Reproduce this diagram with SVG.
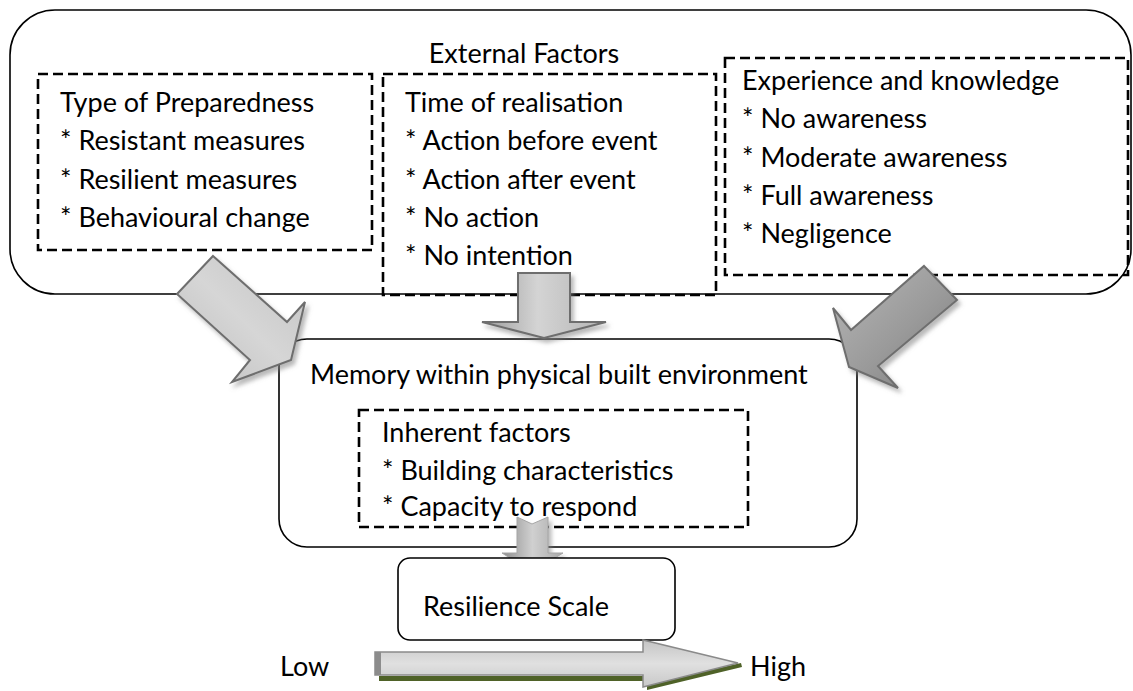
<svg xmlns="http://www.w3.org/2000/svg" width="1133" height="691" viewBox="0 0 1133 691">
  <defs>
    <style>
      .box { fill: #ffffff; stroke: #000000; stroke-width: 1.6; }
      .dash { fill: none; stroke: #000000; stroke-width: 2.6; stroke-dasharray: 10 5; }
      .txt { font-family: Lato, "Liberation Sans", sans-serif; font-size: 27px; fill: #000000; }
      .arrow { stroke: #6e6e6e; stroke-width: 2; stroke-linejoin: miter; filter: url(#shadow); }
    </style>
    <filter id="shadow" x="-20%" y="-20%" width="150%" height="150%">
      <feDropShadow dx="3" dy="4" stdDeviation="2" flood-color="#7f7f7f" flood-opacity="0.55"/>
    </filter>
    <linearGradient id="gLeft" x1="0" y1="1" x2="1" y2="0">
      <stop offset="0" stop-color="#bdbdbd"/>
      <stop offset="0.5" stop-color="#d6d6d6"/>
      <stop offset="1" stop-color="#c2c2c2"/>
    </linearGradient>
    <linearGradient id="gRight" x1="0" y1="0" x2="1" y2="1">
      <stop offset="0" stop-color="#b8b8b8"/>
      <stop offset="0.55" stop-color="#9a9a9a"/>
      <stop offset="1" stop-color="#7a7a7a"/>
    </linearGradient>
    <linearGradient id="gDown" x1="0" y1="0" x2="1" y2="0">
      <stop offset="0" stop-color="#9c9c9c"/>
      <stop offset="0.45" stop-color="#d4d4d4"/>
      <stop offset="1" stop-color="#b4b4b4"/>
    </linearGradient>
    <linearGradient id="gSmall" x1="0" y1="0" x2="1" y2="0">
      <stop offset="0" stop-color="#8e8e8e"/>
      <stop offset="0.5" stop-color="#d0d0d0"/>
      <stop offset="1" stop-color="#a8a8a8"/>
    </linearGradient>
    <linearGradient id="gScale" x1="0" y1="0" x2="0" y2="1">
      <stop offset="0" stop-color="#c4c4c4"/>
      <stop offset="0.5" stop-color="#e0e0e0"/>
      <stop offset="1" stop-color="#c8c8c8"/>
    </linearGradient>
  </defs>

  <rect width="1133" height="691" fill="#ffffff"/>

  <!-- outer container: external factors -->
  <g id="external-factors">
    <rect class="box" x="10" y="10" width="1121" height="284" rx="45" ry="45"/>
    <text class="txt" x="524" y="63" text-anchor="middle">External Factors</text>
  </g>

  <g id="type-of-preparedness">
    <rect class="dash" x="38" y="74" width="334" height="176"/>
    <text class="txt" x="60" y="112">Type of Preparedness</text>
    <text class="txt" x="60" y="150">* Resistant measures</text>
    <text class="txt" x="60" y="189">* Resilient measures</text>
    <text class="txt" x="60" y="227">* Behavioural change</text>
  </g>

  <g id="time-of-realisation">
    <rect class="dash" x="383" y="74" width="333" height="221"/>
    <text class="txt" x="405" y="112">Time of realisation</text>
    <text class="txt" x="405" y="150">* Action before event</text>
    <text class="txt" x="405" y="189">* Action after event</text>
    <text class="txt" x="405" y="227">* No action</text>
    <text class="txt" x="405" y="265">* No intention</text>
  </g>

  <g id="experience-and-knowledge">
    <rect class="dash" x="725" y="58" width="403" height="217"/>
    <text class="txt" x="742" y="90">Experience and knowledge</text>
    <text class="txt" x="742" y="128">* No awareness</text>
    <text class="txt" x="742" y="167">* Moderate awareness</text>
    <text class="txt" x="742" y="205">* Full awareness</text>
    <text class="txt" x="742" y="243">* Negligence</text>
  </g>

  <!-- memory within the built environment -->
  <g id="memory">
    <rect class="box" x="279" y="339" width="578" height="208" rx="28" ry="28"/>
    <text class="txt" x="310" y="384">Memory within physical built environment</text>
  </g>

  <g id="inherent-factors">
    <rect class="dash" x="359" y="410" width="389" height="117"/>
    <text class="txt" x="382" y="442">Inherent factors</text>
    <text class="txt" x="382" y="480">* Building characteristics</text>
    <text class="txt" x="382" y="516">* Capacity to respond</text>
  </g>

  <!-- connectors -->
  <g id="connectors">
    <polygon class="arrow" fill="url(#gLeft)" points="213,256 287,322 305,302 291,360 232,382 250,360 177,294"/>
    <polygon class="arrow" fill="url(#gDown)" points="518,273 570,273 570,322 606,322 544,338 482,322 518,322"/>
    <polygon class="arrow" fill="url(#gRight)" points="924,266 957,300 878,366 898,388 849,367 833,308 851,330"/>
    <polygon fill="url(#gSmall)" stroke="#a6a6a6" stroke-width="1" filter="url(#shadow)" points="517,517 532,524 548,517 548,553 563,553 532,572 502,553 517,553"/>
  </g>

  <g id="resilience-scale">
    <rect class="box" x="398" y="558" width="277" height="82" rx="12" ry="12"/>
    <text class="txt" x="423" y="616">Resilience Scale</text>
  </g>

  <!-- low to high scale arrow -->
  <g id="scale-arrow">
    <polygon fill="#4f6228" points="379,676 647,676 647,690 742,667 741,663 647,684 647,681 379,681"/>
    <polygon fill="url(#gScale)" stroke="#8a8a8a" stroke-width="1.5" points="375,652 643,652 643,640 738,663 643,687 643,675 375,675"/>
    <rect x="375" y="652" width="6" height="23" fill="#8c8c8c"/>
    <text class="txt" x="280" y="676">Low</text>
    <text class="txt" x="750" y="676">High</text>
  </g>
</svg>
